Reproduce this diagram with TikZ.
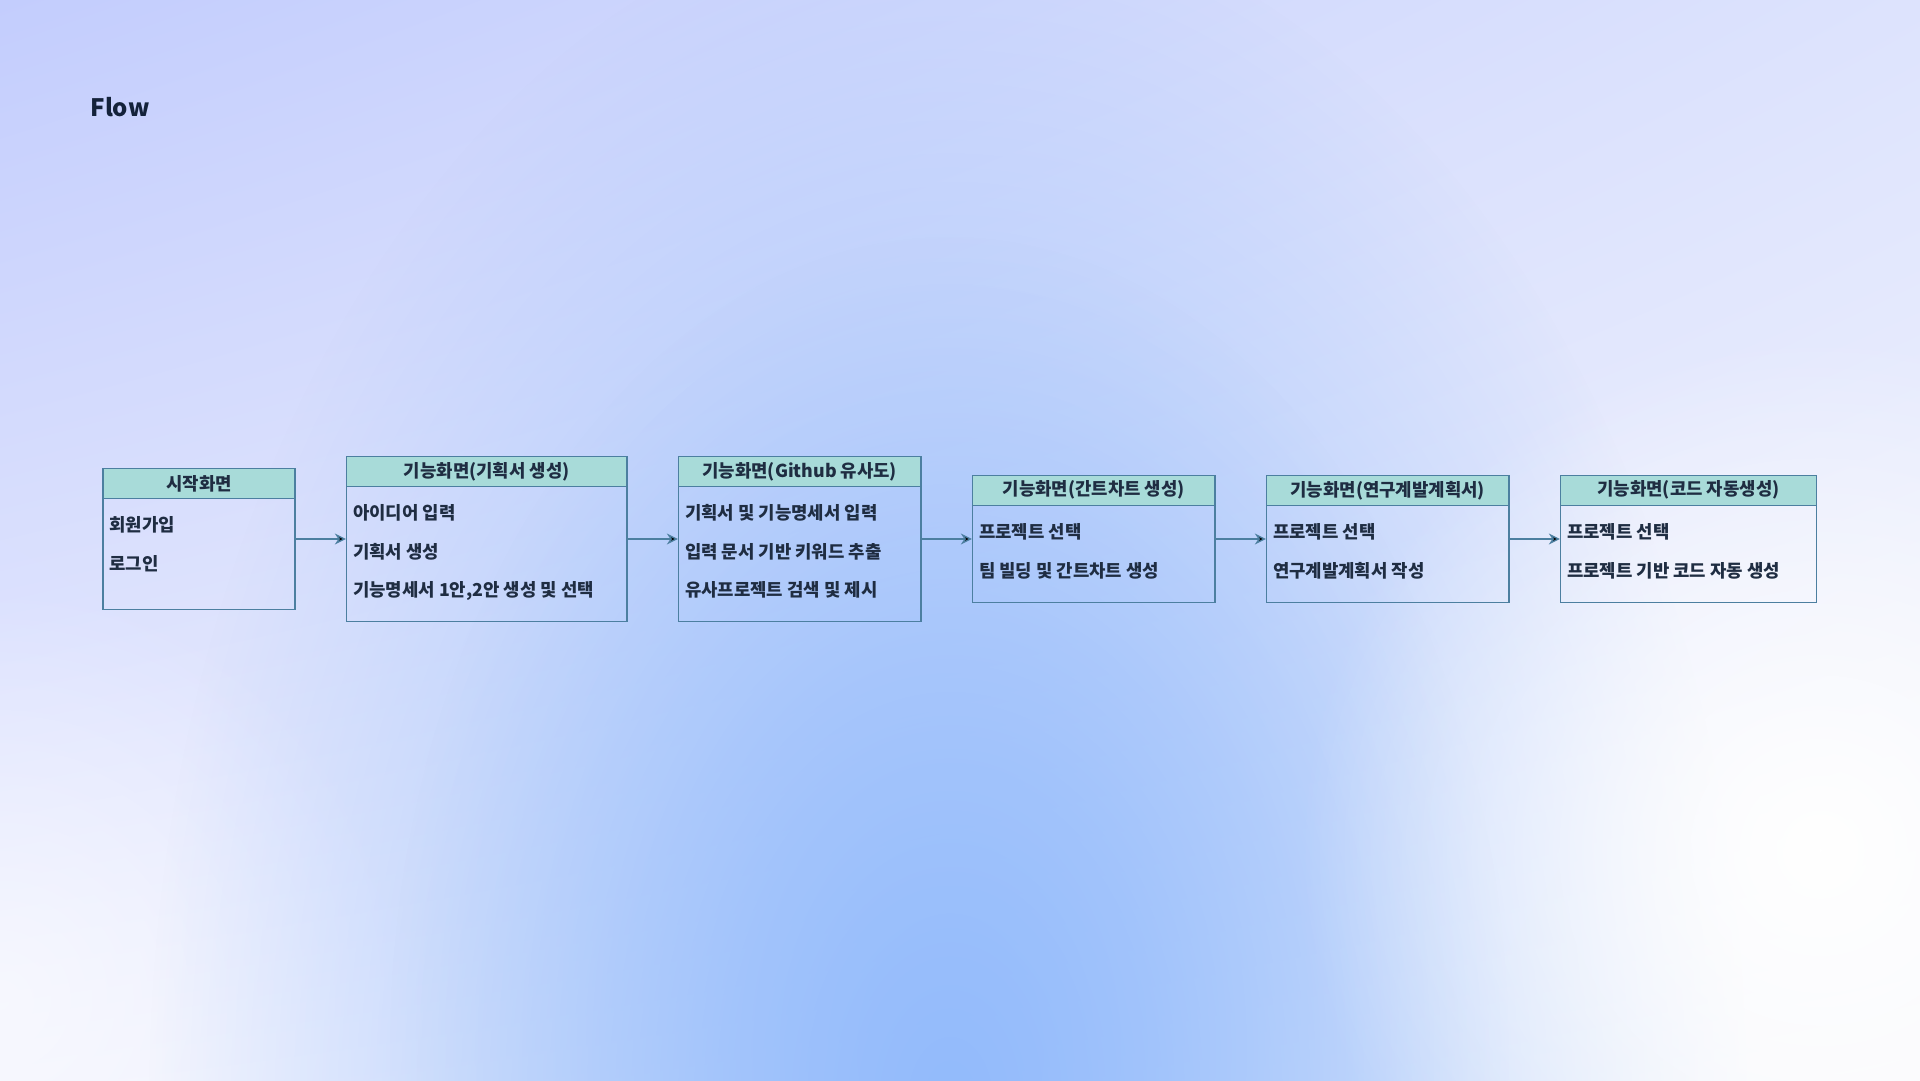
\documentclass[tikz,border=0pt]{standalone}
\usepackage{fontspec}
\setmainfont{Noto Sans CJK KR}
\usetikzlibrary{positioning,fadings,shadings,arrows.meta}
\definecolor{bgul}{HTML}{C3CDFD}
\definecolor{bgur}{HTML}{DDE3FD}
\definecolor{bgll}{HTML}{EEF0FE}
\definecolor{bglr}{HTML}{F7F8FC}
\definecolor{blobblue}{HTML}{93BBFB}
\definecolor{boxline}{HTML}{4C7FA0}
\definecolor{headfill}{HTML}{A8DBD9}
\definecolor{textdark}{HTML}{1F2D42}
\definecolor{titledark}{HTML}{14223A}
\tikzfading[name=soft glow,inner color=transparent!0,outer color=transparent!100]
\tikzset{
  screen box/.style={draw=boxline,line width=1.3pt,inner sep=0pt},
  screen head/.style={draw=boxline,fill=headfill,line width=1.3pt,minimum height=30pt,inner sep=0pt,
    text=textdark,font=\bfseries\fontsize{17.8}{20}\selectfont},
  item/.style={inner sep=0pt,anchor=west,text height=13pt,text depth=3pt,
    text=textdark,font=\bfseries\fontsize{17.8}{20}\selectfont},
  flow arrow/.style={draw=boxline,line width=1.3pt,-{Stealth[length=11pt,width=11pt]}},
}
\begin{document}
\begin{tikzpicture}[x=1pt,y=-1pt]
      % background
      \useasboundingbox (0,0) rectangle (1920,1080);
      \shade[upper left=bgul,upper right=bgur,lower left=bgll,lower right=bglr] (0,0) rectangle (1920,1080);
      \begin{scope}
        \clip (0,0) rectangle (1920,1080);
        \fill[white,fill opacity=0.6,path fading=soft glow] (0,1000) circle[radius=420];
        \fill[blobblue,path fading=soft glow] (950,1100) ellipse[x radius=800,y radius=1200];
        \fill[blobblue,fill opacity=0.6,path fading=soft glow] (950,1050) ellipse[x radius=560,y radius=820];
        \fill[white,path fading=soft glow] (1820,850) circle[radius=520];
      \end{scope}

      \node[anchor=base west,text=titledark,font=\bfseries\fontsize{24}{28}\selectfont] (title) at (87,116) {Flow};

      % screens
      \node[screen box,minimum width=192pt,minimum height=141pt] (s1) at (199,539) {};
      \node[screen box,minimum width=280.5pt,minimum height=165pt,right=50.2pt of s1] (s2) {};
      \node[screen box,minimum width=242.5pt,minimum height=165pt,right=50.2pt of s2] (s3) {};
      \node[screen box,minimum width=242.5pt,minimum height=127.5pt,right=50.2pt of s3] (s4) {};
      \node[screen box,minimum width=242.5pt,minimum height=127.5pt,right=50.2pt of s4] (s5) {};
      \node[screen box,minimum width=256pt,minimum height=127.5pt,right=50.2pt of s5] (s6) {};

      \node[screen head,minimum width=192pt,below=0pt of s1.north] (h1) {시작화면};
      \node[screen head,minimum width=280.5pt,below=0pt of s2.north] (h2) {기능화면(기획서 생성)};
      \node[screen head,minimum width=242.5pt,below=0pt of s3.north] (h3) {기능화면(Github 유사도)};
      \node[screen head,minimum width=242.5pt,below=0pt of s4.north] (h4) {기능화면(간트차트 생성)};
      \node[screen head,minimum width=242.5pt,below=0pt of s5.north] (h5) {기능화면(연구계발계획서)};
      \node[screen head,minimum width=256pt,below=0pt of s6.north] (h6) {기능화면(코드 자동생성)};

      % items
      \node[item] (a1) at ([xshift=7pt,yshift=-27.5pt]h1.south west) {회원가입};
      \node[item,below=38.6pt of a1.west,anchor=west] (a2) {로그인};

      \node[item] (b1) at ([xshift=7pt,yshift=-27.5pt]h2.south west) {아이디어 입력};
      \node[item,below=38.6pt of b1.west,anchor=west] (b2) {기획서 생성};
      \node[item,below=38.6pt of b2.west,anchor=west] (b3) {기능명세서 1안,2안 생성 및 선택};

      \node[item] (c1) at ([xshift=7pt,yshift=-27.5pt]h3.south west) {기획서 및 기능명세서 입력};
      \node[item,below=38.6pt of c1.west,anchor=west] (c2) {입력 문서 기반 키워드 추출};
      \node[item,below=38.6pt of c2.west,anchor=west] (c3) {유사프로젝트 검색 및 제시};

      \node[item] (d1) at ([xshift=7pt,yshift=-27.5pt]h4.south west) {프로젝트 선택};
      \node[item,below=38.6pt of d1.west,anchor=west] (d2) {팀 빌딩 및 간트차트 생성};

      \node[item] (e1) at ([xshift=7pt,yshift=-27.5pt]h5.south west) {프로젝트 선택};
      \node[item,below=38.6pt of e1.west,anchor=west] (e2) {연구계발계획서 작성};

      \node[item] (f1) at ([xshift=7pt,yshift=-27.5pt]h6.south west) {프로젝트 선택};
      \node[item,below=38.6pt of f1.west,anchor=west] (f2) {프로젝트 기반 코드 자동 생성};

      \path[flow arrow]
        (s1) edge (s2)
        (s2) edge (s3)
        (s3) edge (s4)
        (s4) edge (s5)
        (s5) edge (s6);

\end{tikzpicture}
\end{document}
